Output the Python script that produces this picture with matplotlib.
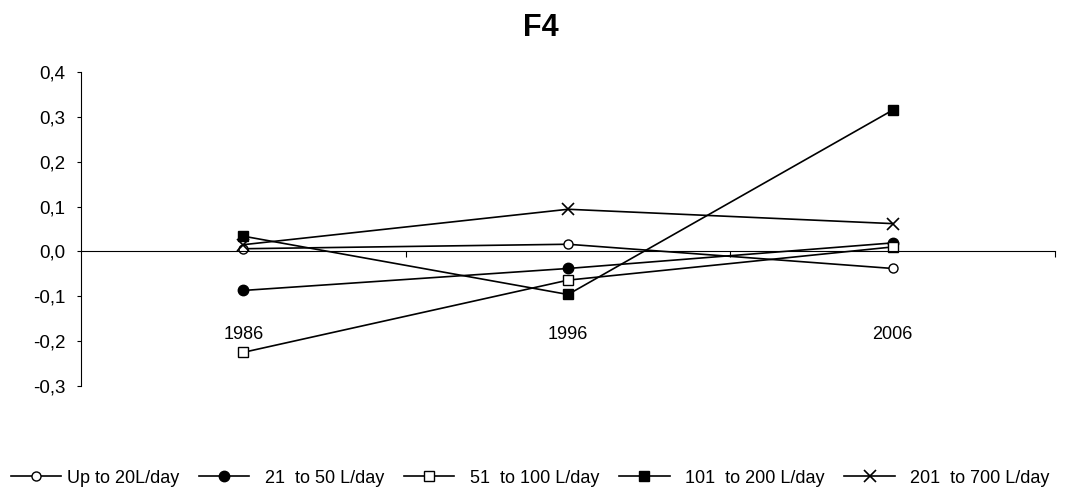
import matplotlib
matplotlib.use("Agg")
import matplotlib.pyplot as plt
from matplotlib.ticker import FuncFormatter, FixedLocator

plt.rcParams['font.family'] = ['Liberation Sans', 'DejaVu Sans']

years = ["1986", "1996", "2006"]
series_labels = ["Up to 20L/day", "  21  to 50 L/day", "  51  to 100 L/day",
                 "  101  to 200 L/day", "  201  to 700 L/day"]
up_to_20 = [0.006, 0.016, -0.038]
l21_50 = [-0.087, -0.038, 0.019]
l51_100 = [-0.225, -0.064, 0.010]
l101_200 = [0.034, -0.096, 0.315]
l201_700 = [0.015, 0.094, 0.062]
series_values = [up_to_20, l21_50, l51_100, l101_200, l201_700]
y_ticks = [-0.3, -0.2, -0.1, 0.0, 0.1, 0.2, 0.3, 0.4]

styles = [
    dict(marker='o', markerfacecolor='white', markersize=6.5),
    dict(marker='o', markerfacecolor='black', markersize=7.5),
    dict(marker='s', markerfacecolor='white', markersize=6.5),
    dict(marker='s', markerfacecolor='black', markersize=7),
    dict(marker='x', markerfacecolor='black', markersize=9, markeredgewidth=1.2),
]

fig = plt.figure(figsize=(10.67, 4.9), dpi=100)
ax = fig.add_axes([81/1067, 1-386/490, (1055-81)/1067, (386-72)/490])

x = list(range(len(years)))
for vals, lab, st in zip(series_values, series_labels, styles):
    ax.plot(x, vals, color='black', linewidth=1.2, markeredgecolor='black',
            label=lab, **st, clip_on=False)

ax.set_xlim(-0.5, len(years) - 0.5)
ax.set_ylim(-0.3, 0.4)
ax.set_yticks(y_ticks)
ax.yaxis.set_major_formatter(FuncFormatter(lambda v, p: f"{v:.1f}".replace('.', ',').replace('-0,0', '0,0')))
ax.tick_params(axis='y', direction='out', length=3, width=0.8, labelsize=13.5, pad=8)

ax.spines['top'].set_visible(False)
ax.spines['right'].set_visible(False)
ax.spines['bottom'].set_position(('data', 0))
ax.spines['left'].set_linewidth(0.8)
ax.spines['bottom'].set_linewidth(0.8)

ax.set_xticks(x)
ax.set_xticklabels(years)
ax.xaxis.set_minor_locator(FixedLocator([0.5, 1.5, 2.5]))
ax.tick_params(axis='x', which='major', length=0, labelsize=13, pad=54)
ax.tick_params(axis='x', which='minor', direction='out', length=4, width=0.8)

fig.text(0.507, 0.942, "F4", fontsize=22, fontweight='bold', ha='center', va='center')

fig.legend(loc='lower center', bbox_to_anchor=(0.497, -0.008), ncol=5, frameon=False,
           fontsize=13, handlelength=2.8, handletextpad=0.3, columnspacing=1.1,
           borderaxespad=0.0)

fig.savefig("out.png", dpi=100)
